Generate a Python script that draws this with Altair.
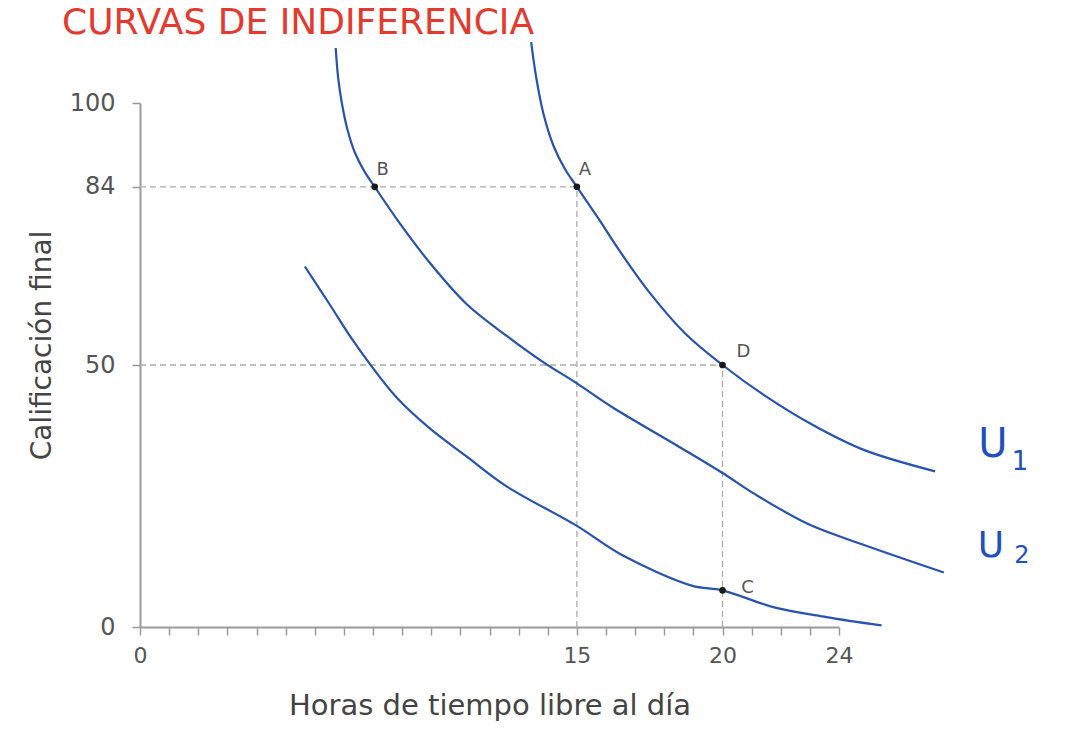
import altair as alt
import pandas as pd

# Curve data (hours of free time, final grade)
u1_x = [13.43, 13.6, 13.85, 14.2, 14.6, 15, 15.76, 16.44, 17.47, 18.72, 20, 21.44, 23.15, 24.85, 27.3]
u1_y = [111.6, 105.0, 98.0, 91.8, 87.3, 84, 77.8, 72.0, 64.0, 56.0, 50, 44.2, 38.4, 33.8, 29.7]

u2_x = [6.72, 6.8, 6.93, 7.12, 7.38, 7.7, 8.06, 8.81, 9.95, 11.2, 12.58, 13.83, 15, 16.26, 18.45, 20, 21.13, 22.96, 24.79, 27.6]
u2_y = [110.5, 105.0, 100.0, 95.0, 90.5, 87.0, 84, 77.9, 69.5, 61.7, 55.6, 50.6, 46.5, 41.8, 34.6, 29.4, 25.3, 19.6, 15.8, 10.4]

u3_x = [5.66, 6.52, 7.2, 7.89, 8.81, 9.95, 11.2, 12.6, 15, 16.5, 18.94, 20, 21.74, 23.57, 25.46]
u3_y = [68.8, 61.5, 55.6, 50.2, 43.8, 37.9, 32.6, 26.8, 19.3, 13.9, 7.9, 7.0, 3.8, 1.9, 0.3]

pt_names = ["A", "B", "D", "C"]
pt_x = [15, 8.06, 20, 20]
pt_y = [84, 84, 50, 7.0]

h_rule_y = [84, 50]
h_rule_x2 = [15, 20]
v_rule_x = [15, 20]
v_rule_y2 = [84, 50]

x_ticks = list(range(0, 25))
x_labels = [0, 15, 20, 24]
y_ticks = [0, 50, 84, 100]

title_text = "CURVAS DE INDIFERENCIA"
x_title = "Horas de tiempo libre al día"
y_title = "Calificación final"

rows = []
for name, xs, ys in [("U1", u1_x, u1_y), ("U2", u2_x, u2_y), ("U3", u3_x, u3_y)]:
    for i, (a, b) in enumerate(zip(xs, ys)):
        rows.append({"curve": name, "order": i, "x": a, "y": b})
curves = pd.DataFrame(rows)
points = pd.DataFrame({"name": pt_names, "x": pt_x, "y": pt_y})
hrules = pd.DataFrame({"y": h_rule_y, "x": [0, 0], "x2": h_rule_x2})
vrules = pd.DataFrame({"x": v_rule_x, "y": [0, 0], "y2": v_rule_y2})

FONT = "DejaVu Sans"
xscale = alt.Scale(domain=[0, 24], nice=False, zero=False)
yscale = alt.Scale(domain=[0, 100], nice=False, zero=False)

label_expr = "indexof(" + str(x_labels) + ", datum.value) >= 0 ? datum.label : ''"

xaxis = alt.Axis(values=x_ticks, labelExpr=label_expr, title=x_title, grid=False,
                 domainColor="#9a9a9a", domainWidth=2, tickColor="#9a9a9a", tickWidth=1.5,
                 tickSize=8, labelFontSize=22, labelColor="#555555", labelFont=FONT,
                 labelPadding=10, labelOverlap=False, titleFontSize=29, titleColor="#444444",
                 titleFont=FONT, titleFontWeight="normal", titlePadding=25, labelFlush=False)
yaxis = alt.Axis(values=y_ticks, title=y_title, grid=False,
                 domainColor="#9a9a9a", domainWidth=2, tickColor="#9a9a9a", tickWidth=1.5,
                 tickSize=8, labelFontSize=24, labelColor="#555555", labelFont=FONT,
                 labelPadding=17, labelOverlap=False, titleFontSize=28, titleColor="#444444",
                 titleFont=FONT, titleFontWeight="normal", titleAngle=270,
                 titleAlign="center", titleBaseline="middle", titleX=-98, titleY=242,
                 labelFlush=False)


def X(field):
    return alt.X(field, type="quantitative", scale=xscale, axis=xaxis)


def Y(field):
    return alt.Y(field, type="quantitative", scale=yscale, axis=yaxis)


hr = alt.Chart(hrules).mark_rule(color="#ababab", strokeDash=[6, 4], strokeWidth=1.3).encode(
    x=X("x"), x2="x2:Q", y=Y("y"))
vr = alt.Chart(vrules).mark_rule(color="#ababab", strokeDash=[6, 4], strokeWidth=1.3).encode(
    x=X("x"), y=Y("y"), y2="y2:Q")

lines = alt.Chart(curves).mark_line(color="#2752b0", strokeWidth=2.2, interpolate="catmull-rom",
                                    clip=False).encode(
    x=X("x"), y=Y("y"), detail="curve:N", order="order:Q")

dots = alt.Chart(points).mark_circle(color="#1a1a1a", size=45, opacity=1).encode(
    x=X("x"), y=Y("y"))

offsets = {"A": (8, -17), "B": (8, -17), "D": (21, -13), "C": (25, -2)}
labels = []
for n, (dx, dy) in offsets.items():
    labels.append(
        alt.Chart(points[points["name"] == n]).mark_text(
            align="center", baseline="middle", dx=dx, dy=dy, fontSize=18,
            color="#555555", font=FONT).encode(
            x=X("x"), y=Y("y"), text="name:N"))

ann = pd.DataFrame({"t": [title_text]})
title = alt.Chart(ann).mark_text(align="left", baseline="middle", fontSize=36, color="#e5392e",
                                 font=FONT).encode(
    x=alt.value(-78), y=alt.value(-80), text="t:N")

u_df = pd.DataFrame({"t": ["U"]})
sub1 = pd.DataFrame({"t": ["1"]})
sub2 = pd.DataFrame({"t": ["2"]})
uc = "#1f4fc0"
u1 = alt.Chart(u_df).mark_text(align="center", baseline="middle", fontSize=40, color=uc,
                               font=FONT).encode(
    x=alt.value(853), y=alt.value(342), text="t:N")
u1s = alt.Chart(sub1).mark_text(align="center", baseline="middle", fontSize=26, color=uc,
                                font=FONT).encode(
    x=alt.value(880), y=alt.value(359), text="t:N")
u2 = alt.Chart(u_df).mark_text(align="center", baseline="middle", fontSize=36, color=uc,
                               font=FONT).encode(
    x=alt.value(851), y=alt.value(443), text="t:N")
u2s = alt.Chart(sub2).mark_text(align="center", baseline="middle", fontSize=24, color=uc,
                                font=FONT).encode(
    x=alt.value(882), y=alt.value(453), text="t:N")

chart = alt.layer(hr, vr, lines, dots, *labels, title, u1, u1s, u2, u2s).properties(
    width=699, height=524,
    autosize=alt.AutoSizeParams(type="none"),
    padding={"left": 140, "top": 103, "right": 227, "bottom": 109},
    background="white",
).configure_view(stroke=None)

chart.save("out.html", embed_options={"renderer": "svg", "actions": False})
